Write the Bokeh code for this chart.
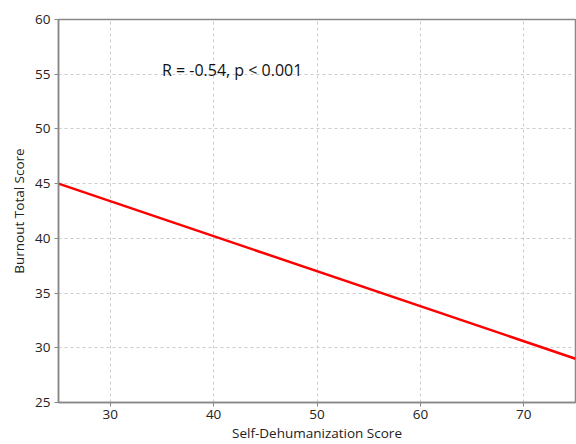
from bokeh.plotting import figure
from bokeh.models import Range1d, FixedTicker, Label
from bokeh.embed import file_html
from bokeh.resources import INLINE

# Regression line endpoints
line_x = [25, 75]
line_y = [45, 29]
x_ticks = [30, 40, 50, 60, 70]
y_ticks = [25, 30, 35, 40, 45, 50, 55, 60]
annotation = "R = -0.54, p < 0.001"
x_label = "Self-Dehumanization Score"
y_label = "Burnout Total Score"

FONT = "Open Sans"

p = figure(width=576, height=444, output_backend="svg", toolbar_location=None,
           x_range=Range1d(25, 75), y_range=Range1d(25, 60),
           min_border_left=58, min_border_right=1, min_border_top=19, min_border_bottom=40)
p.background_fill_color = "white"
p.border_fill_color = "white"
p.outline_line_color = "#888888"
p.outline_line_width = 1.5

p.line(line_x, line_y, line_color="red", line_width=2.5)

p.add_layout(Label(x=35, y=55.4, text=annotation, text_font=FONT, text_font_size="16px",
                   text_baseline="middle", text_align="left", text_color="#111111"))

for ax in (p.xaxis, p.yaxis):
    ax.axis_line_color = "#888888"
    ax.axis_line_width = 1.5
    ax.major_tick_line_color = "#888888"
    ax.major_tick_out = 4
    ax.major_tick_in = 0
    ax.minor_tick_line_color = None
    ax.major_label_text_font = FONT
    ax.major_label_text_font_size = "13.5px"
    ax.major_label_text_color = "#222222"
    ax.axis_label_text_font = FONT
    ax.axis_label_text_font_size = "13.5px"
    ax.axis_label_text_font_style = "normal"
    ax.axis_label_text_color = "#222222"

p.xaxis.ticker = FixedTicker(ticks=x_ticks)
p.yaxis.ticker = FixedTicker(ticks=y_ticks)
p.xaxis.axis_label = x_label
p.yaxis.axis_label = y_label
p.xaxis.axis_label_standoff = 2
p.yaxis.axis_label_standoff = 4
p.xaxis.major_label_standoff = 3
p.yaxis.major_label_standoff = 4

for g in (p.xgrid, p.ygrid):
    g.grid_line_color = "#cccccc"
    g.grid_line_dash = "3 3"
    g.grid_line_width = 1

open("out.html", "w").write(file_html(p, INLINE))
